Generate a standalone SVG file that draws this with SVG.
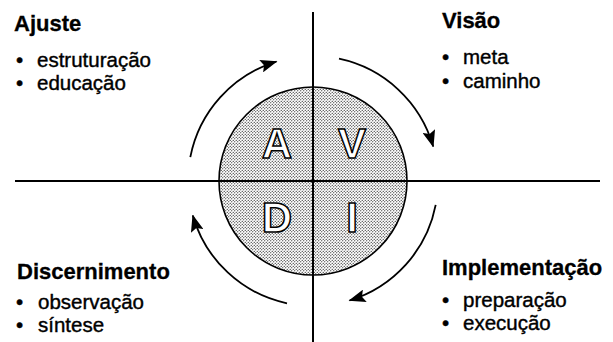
<svg xmlns="http://www.w3.org/2000/svg" width="613" height="342" viewBox="0 0 613 342">
  <style>
    .head { font-family: "Liberation Sans", Arial, sans-serif; font-weight: bold; font-size: 22px; fill: #000; stroke: #000; stroke-width: 0.3; }
    .item { font-family: "Liberation Sans", Arial, sans-serif; font-size: 20.5px; fill: #000; stroke: #000; stroke-width: 0.4; }
    .letter { font-family: "Liberation Sans", Arial, sans-serif; font-weight: bold; font-size: 42px; fill: #fff; stroke: #000; stroke-width: 1.5; text-anchor: middle; }
    .axis { stroke: #000; stroke-width: 2; fill: none; }
    .cycle { stroke: #000; stroke-width: 1.8; fill: none; marker-end: url(#arrow); }
  </style>
  <defs>
    <pattern id="stipple" width="3" height="3" patternUnits="userSpaceOnUse">
      <rect width="3" height="3" fill="#fff"/>
      <circle cx="0.75" cy="0.75" r="0.62" fill="#000"/>
      <circle cx="2.25" cy="2.25" r="0.62" fill="#000"/>
    </pattern>
    <marker id="arrow" markerUnits="userSpaceOnUse" markerWidth="17" markerHeight="13" refX="16" refY="6.5" orient="auto">
      <path d="M0,0 L17,6.5 L0,13 L3,6.5 Z" fill="#000"/>
    </marker>
  </defs>

  <g id="circle">
    <circle cx="313" cy="181" r="94" fill="url(#stipple)" stroke="#000" stroke-width="1.6"/>
  </g>

  <g id="axes">
    <line class="axis" x1="15" y1="181" x2="600" y2="181"/>
    <line class="axis" x1="313" y1="12" x2="313" y2="342"/>
  </g>

  <g id="letters">
    <text class="letter" x="277" y="158">A</text>
    <text class="letter" x="352" y="158">V</text>
    <text class="letter" x="277" y="232">D</text>
    <text class="letter" x="352" y="232">I</text>
  </g>

  <g id="connectors">
    <path class="cycle" d="M190.3,157.1 A125,125 0 0 1 276.5,61.5"/>
    <path class="cycle" d="M339.0,58.7 A125,125 0 0 1 433.2,146.5"/>
    <path class="cycle" d="M435.7,204.9 A125,125 0 0 1 349.5,300.5"/>
    <path class="cycle" d="M287.0,303.3 A125,125 0 0 1 192.8,215.5"/>
  </g>

  <g id="ajuste">
    <text class="head" x="14" y="31">Ajuste</text>
    <text class="item" x="16" y="67">•</text>
    <text class="item" x="37" y="67">estruturação</text>
    <text class="item" x="16" y="90">•</text>
    <text class="item" x="37" y="90">educação</text>
  </g>

  <g id="visao">
    <text class="head" x="442" y="28">Visão</text>
    <text class="item" x="442" y="64">•</text>
    <text class="item" x="463" y="64">meta</text>
    <text class="item" x="442" y="88">•</text>
    <text class="item" x="463" y="88">caminho</text>
  </g>

  <g id="discernimento">
    <text class="head" x="17" y="279">Discernimento</text>
    <text class="item" x="16" y="309">•</text>
    <text class="item" x="38" y="309">observação</text>
    <text class="item" x="16" y="332">•</text>
    <text class="item" x="38" y="332">síntese</text>
  </g>

  <g id="implementacao">
    <text class="head" x="442" y="275">Implementação</text>
    <text class="item" x="442" y="307">•</text>
    <text class="item" x="463" y="307">preparação</text>
    <text class="item" x="442" y="330">•</text>
    <text class="item" x="463" y="330">execução</text>
  </g>
</svg>
